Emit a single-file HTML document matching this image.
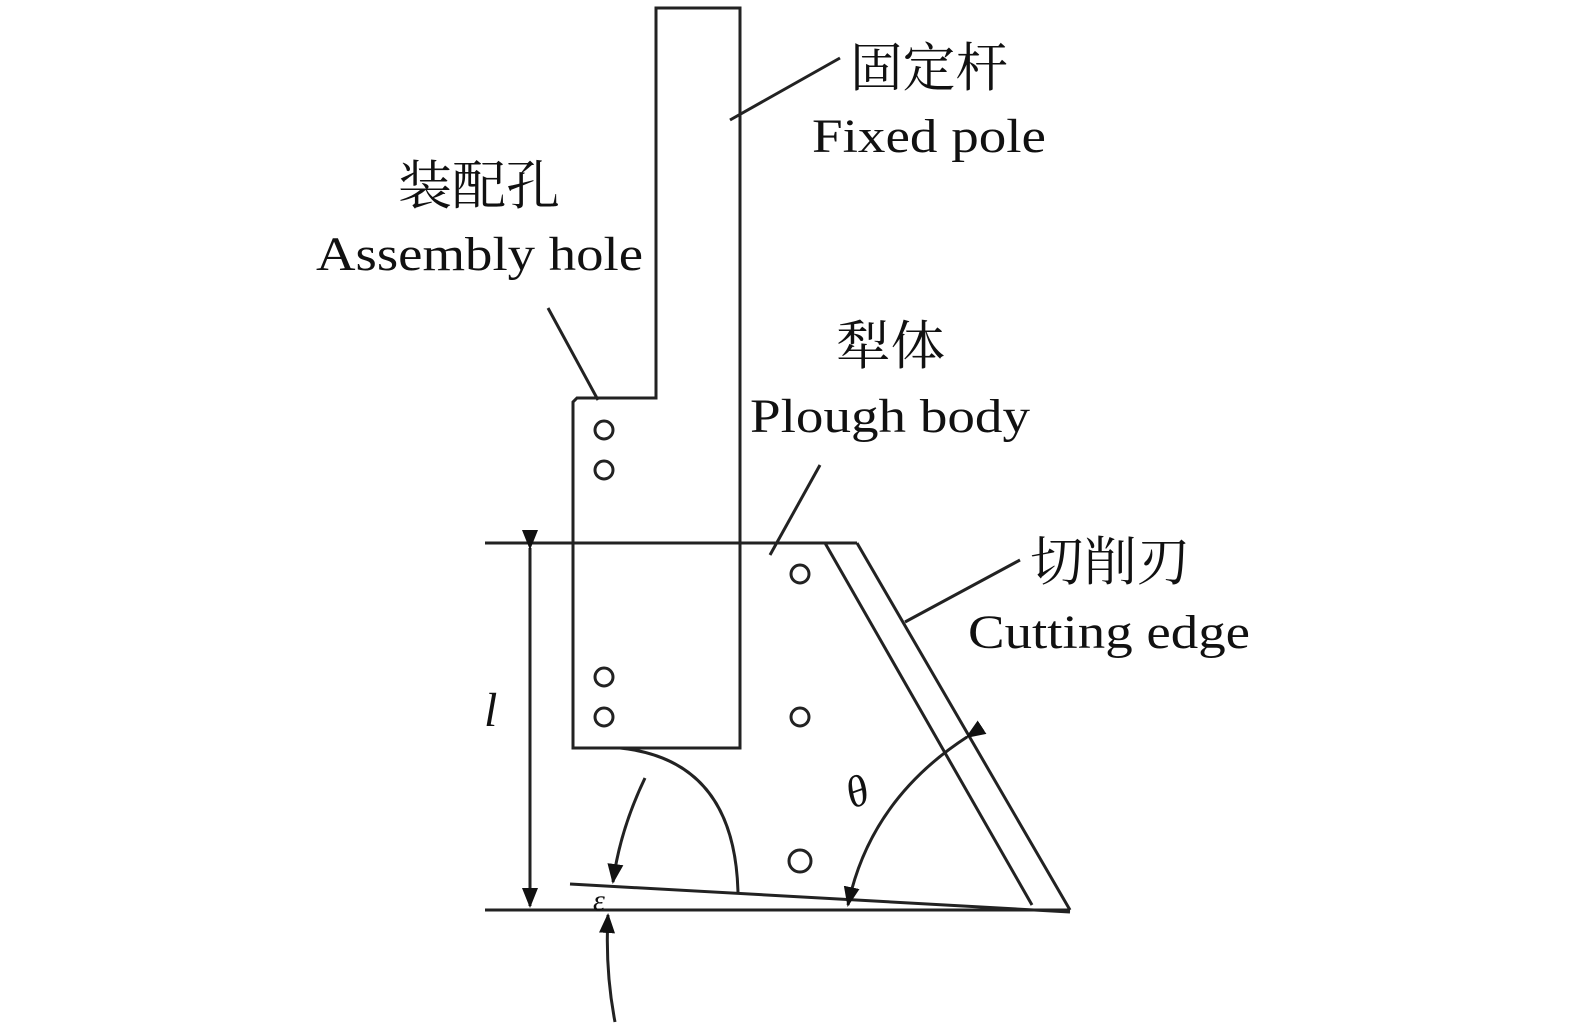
<!DOCTYPE html>
<html><head><meta charset="utf-8"><style>
html,body{margin:0;padding:0;background:#fff;}
svg{display:block;}
text{font-family:"Liberation Serif","Noto Serif CJK SC",serif;fill:#111;}
</style></head><body>
<svg width="1575" height="1032" viewBox="0 0 1575 1032" xmlns="http://www.w3.org/2000/svg">
<defs>
<marker id="ab" markerWidth="20" markerHeight="16" refX="18" refY="8" orient="auto" markerUnits="userSpaceOnUse">
<path d="M0,0 L20,8 L0,16 Z" fill="#111"/></marker>
</defs>
<g stroke="#222" stroke-width="3" fill="none">
<path d="M656,8 L740,8 L740,748 L573,748 L573,402 L577,398 L656,398 Z"/>
<line x1="485" y1="543" x2="857" y2="543"/>
<line x1="485" y1="910" x2="1070" y2="910"/>
<line x1="857" y1="543" x2="1070" y2="910"/>
<line x1="825" y1="543" x2="1032" y2="905"/>
<line x1="570" y1="884" x2="1070" y2="912"/>
<path d="M620,748 Q735,760 738,893"/>
<circle cx="604" cy="430" r="9"/><circle cx="604" cy="470" r="9"/>
<circle cx="604" cy="677" r="9"/><circle cx="604" cy="717" r="9"/>
<circle cx="800" cy="574" r="9"/><circle cx="800" cy="717" r="9"/>
<circle cx="800" cy="861" r="11"/>
<line x1="730" y1="120" x2="840" y2="58"/>
<line x1="548" y1="308" x2="598" y2="400"/>
<line x1="770" y1="555" x2="820" y2="465"/>
<line x1="905" y1="622" x2="1020" y2="560"/>
<line x1="530" y1="548" x2="530" y2="906" marker-start="url(#ab)" marker-end="url(#ab)"/>
<path d="M967,737 Q870,800 848,905" marker-start="url(#ab)" marker-end="url(#ab)"/>
<path d="M645,778 Q620,830 613,882" marker-end="url(#ab)"/>
<path d="M615,1022 Q605,970 608,915" marker-end="url(#ab)"/>
</g>
<text x="850" y="86" font-size="53" textLength="158" lengthAdjust="spacingAndGlyphs">固定杆</text>
<text x="812" y="152" font-size="48" textLength="234" lengthAdjust="spacingAndGlyphs">Fixed pole</text>
<text x="398" y="204" font-size="53" textLength="162" lengthAdjust="spacingAndGlyphs">装配孔</text>
<text x="316" y="270" font-size="48" textLength="327" lengthAdjust="spacingAndGlyphs">Assembly hole</text>
<text x="836" y="364" font-size="53" textLength="109" lengthAdjust="spacingAndGlyphs">犁体</text>
<text x="750" y="432" font-size="48" textLength="280" lengthAdjust="spacingAndGlyphs">Plough body</text>
<text x="1030" y="580" font-size="53" textLength="160" lengthAdjust="spacingAndGlyphs">切削刃</text>
<text x="968" y="648" font-size="48" textLength="282" lengthAdjust="spacingAndGlyphs">Cutting edge</text>
<text x="484" y="726" font-size="48" font-style="italic">l</text>
<text x="846" y="805" font-size="44" font-style="italic" transform="rotate(-20 860 790)">θ</text>
<text x="593" y="910" font-size="30" font-style="italic">ε</text>
</svg>
</body></html>
